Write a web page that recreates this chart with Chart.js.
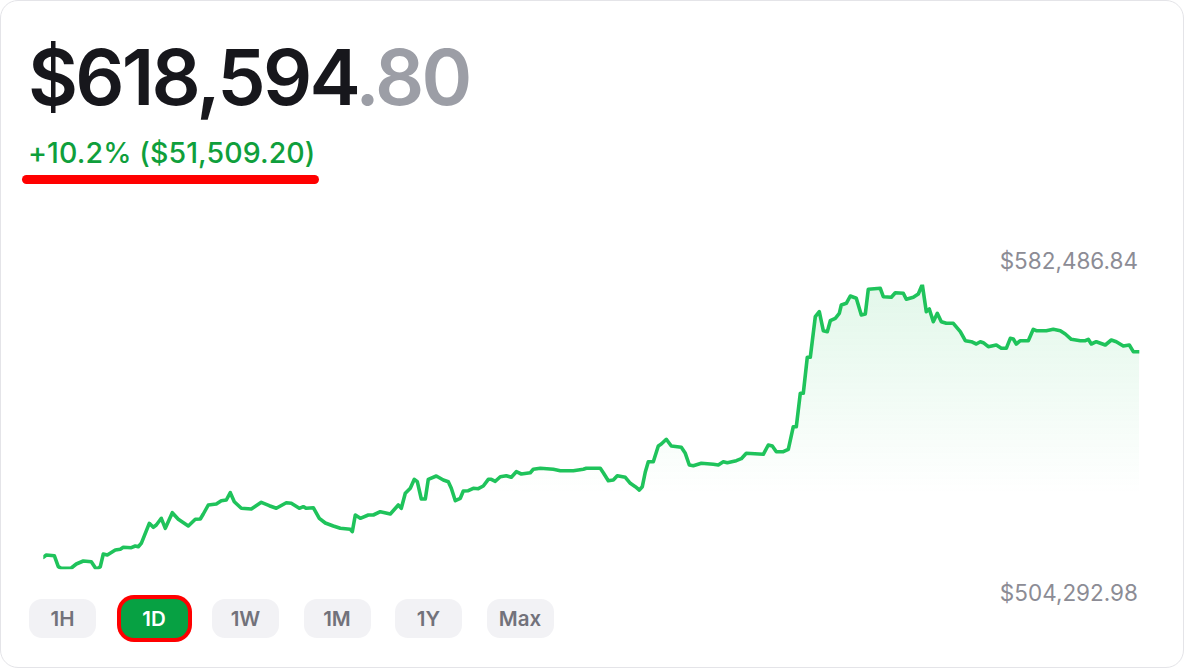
<!DOCTYPE html>
<html>
<head>
<meta charset="utf-8">
<script src="https://cdn.jsdelivr.net/npm/chart.js@4/dist/chart.umd.min.js"></script>
<style>
  html, body { margin: 0; padding: 0; background: #ffffff; }
  body { width: 1184px; height: 668px; overflow: hidden; font-family: Inter, "Noto Sans", sans-serif; }
  .card { position: absolute; left: 0; top: 0; width: 1182px; height: 666px; border: 1px solid #e4e4e8; border-radius: 18px; background: #fff; }
  .price { position: absolute; left: 28px; top: 39px; font-size: 77px; font-weight: 600; letter-spacing: -2.8px; color: #17171c; line-height: 1; }
  .price span { color: #9c9ea6; }
  .change { position: absolute; left: 28px; top: 139px; font-size: 28.5px; font-weight: 500; color: #0f9f3c; line-height: 1; letter-spacing: 0.1px; }
  .underline { position: absolute; left: 22px; top: 175px; width: 297px; height: 9px; background: #ff0000; border-radius: 5px; }
  .hi, .lo { position: absolute; right: 46px; font-size: 22.5px; color: #8c8c95; line-height: 1; }
  .hi { top: 250px; }
  .lo { top: 582px; }
  #wrap { position: absolute; left: 30px; top: 270px; width: 1124px; height: 315px; }
  .btns { position: absolute; left: 29px; top: 599px; }
  .btn { position: absolute; top: 0; width: 67px; height: 39px; border-radius: 13px; background: #f2f2f5; color: #72727b; font-size: 20.5px; font-weight: 600; text-align: center; line-height: 39px; }
  .btn.on { background: #07a143; color: #fff; box-shadow: 0 0 0 4px #ff0000; }
</style>
</head>
<body>
<div class="card"></div>
<div class="price">$618,594<span>.80</span></div>
<div class="change">+10.2% ($51,509.20)</div>
<div class="underline"></div>
<div class="hi" id="hi"></div>
<div class="lo" id="lo"></div>
<div id="wrap"><canvas id="chart"></canvas></div>
<div class="btns" id="btns"></div>

<script>
// minutes since the start of the day window
const minutes = [
  0, 3, 11, 15, 18, 28, 33, 40, 48, 53, 57, 60, 64, 72, 77, 80, 88, 92, 95, 98,
  106, 110, 113, 118, 122, 129, 135, 145, 152, 157, 160, 165, 173, 178, 183, 187, 191, 198, 208, 218,
  226, 233, 243, 248, 256, 260, 263, 270, 276, 282, 290, 297, 307, 309, 312, 317, 325, 330, 337, 347,
  355, 358, 362, 367, 371, 374, 378, 382, 385, 393, 400, 405, 408, 412, 417, 420, 425, 430, 435, 440,
  445, 448, 452, 457, 463, 468, 473, 478, 487, 490, 497, 510, 517, 530, 540, 543, 557, 560, 565, 570,
  574, 582, 587, 592, 596, 599, 602, 605, 610, 615, 618, 623, 628, 638, 642, 646, 650, 658, 670, 675,
  680, 684, 693, 698, 703, 720, 725, 729, 733, 740, 745, 750, 753, 757, 760, 764, 767, 772, 776, 780,
  784, 787, 792, 796, 798, 803, 807, 813, 818, 822, 825, 837, 840, 848, 852, 860, 863, 870, 875, 879,
  883, 886, 890, 894, 898, 903, 910, 917, 922, 928, 933, 937, 940, 945, 953, 958, 963, 967, 970, 973,
  977, 985, 990, 993, 1003, 1010, 1017, 1022, 1028, 1037, 1042, 1045, 1048, 1053, 1062, 1068, 1073, 1080, 1086, 1090,
  1096
];

// portfolio value in dollars
const values = [
  507588, 508219, 508027, 505007, 504568, 504650, 505748, 506572, 506380, 504292.98,
  505007, 508494, 508219, 509592, 509784, 510333, 510224, 510690, 510498, 511432,
  516923, 515825, 516456, 518296, 515550, 519833, 518021, 516181, 518021, 518103,
  519476, 521947, 522222, 523128, 523320, 525324, 522853, 521041, 520849, 522689,
  521755, 521041, 522578, 522414, 521041, 521480, 521041, 521206, 518296, 517005,
  516181, 515550, 515275, 514616, 519202, 518296, 519202, 519202, 520108, 519476,
  521947, 521041, 525160, 526532, 529003, 528344, 523595, 523595, 529003, 529909,
  528811, 528344, 526532, 523128, 523787, 525791, 525873, 526532, 526423, 527164,
  529003, 529003, 528454, 529717, 529992, 529553, 531090, 530459, 530815, 531749,
  532024, 531749, 531365, 531365, 531749, 532024, 532024, 530815, 528619, 528811,
  529992, 529553, 527905, 526972, 526066, 526972, 531008, 533836, 533836, 538146,
  538695, 539986, 538146, 537789, 536142, 532930, 532737, 533396, 533122, 532930,
  533836, 533561, 534110, 534659, 536142, 535867, 538421, 538146, 536581, 536581,
  537240, 543445, 543445, 552616, 552616, 562500, 562500, 573647, 575020, 569803,
  569528, 572549, 573208, 574580, 576859, 577326, 579330, 578699, 574114, 574388,
  581170, 581444, 579138, 578973, 580236, 580072, 578424, 578973, 579879, 582486.84,
  575020, 575761, 572274, 574580, 572274, 571835, 571835, 569528, 567057, 566783,
  566151, 566783, 566508, 565410, 565877, 564971, 564971, 567716, 567524, 566151,
  567057, 567057, 570187, 569803, 569803, 570187, 569803, 568897, 567442, 567057,
  567057, 567442, 566151, 566783, 565877, 567250, 566783, 565602, 565877, 564037,
  564037
];

const highLabel = "$582,486.84";
const lowLabel = "$504,292.98";
const ranges = ["1H", "1D", "1W", "1M", "1Y", "Max"];
const activeRange = "1D";

document.getElementById("hi").textContent = highLabel;
document.getElementById("lo").textContent = lowLabel;

// range buttons
const btns = document.getElementById("btns");
ranges.forEach((r, i) => {
  const b = document.createElement("div");
  b.className = "btn" + (r === activeRange ? " on" : "");
  b.style.left = (i * 91.5) + "px";
  b.textContent = r;
  btns.appendChild(b);
});

const green = "#1fc35b";

const ctx = document.getElementById("chart").getContext("2d");
new Chart(ctx, {
  type: "line",
  data: {
    datasets: [
      {
        data: minutes.map((t, i) => ({ x: t, y: values[i] })),
        borderColor: green,
        borderWidth: 3.6,
        borderJoinStyle: "round",
        borderCapStyle: "round",
        pointRadius: 0,
        tension: 0,
        fill: "start",
        backgroundColor: (c) => {
          const area = c.chart.chartArea;
          if (!area) return "rgba(31,195,91,0.1)";
          const g = c.chart.ctx.createLinearGradient(0, area.top, 0, area.top + 210);
          g.addColorStop(0, "rgba(31,195,91,0.13)");
          g.addColorStop(1, "rgba(31,195,91,0)");
          return g;
        },
      },
    ],
  },
  options: {
    responsive: true,
    maintainAspectRatio: false,
    animation: false,
    layout: { padding: { left: 13.3, right: 14.7, top: 14.5, bottom: 15.7 } },
    plugins: { legend: { display: false }, tooltip: { enabled: false } },
    scales: {
      x: { type: "linear", min: 0, max: 1096, display: false },
      y: { min: 504292.98, max: 582486.84, display: false },
    },
  },
});
</script>
</body>
</html>
